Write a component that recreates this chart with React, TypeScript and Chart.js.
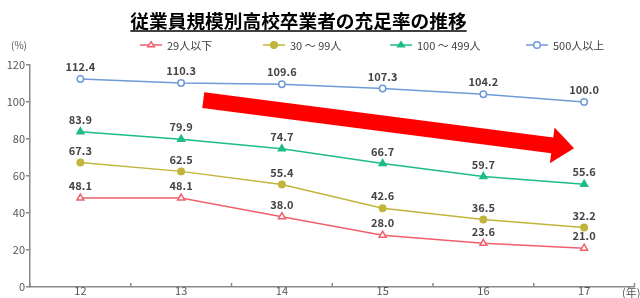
import React, { useEffect, useRef } from "react";
import { Chart, registerables } from "chart.js";

Chart.register(...registerables);

const title = "従業員規模別高校卒業者の充足率の推移";
const categories = ["12", "13", "14", "15", "16", "17"];
const seriesNames = ["29人以下", "30 ～ 99人", "100 ～ 499人", "500人以上"];
const under30 = [48.1, 48.1, 38.0, 28.0, 23.6, 21.0];
const from30to99 = [67.3, 62.5, 55.4, 42.6, 36.5, 32.2];
const from100to499 = [83.9, 79.9, 74.7, 66.7, 59.7, 55.6];
const over500 = [112.4, 110.3, 109.6, 107.3, 104.2, 100.0];
const yMin = 0;
const yMax = 120;
const yStep = 20;
const yUnit = "(%)";
const xUnit = "(年)";
// trend arrow, in data space (category index, value)
const arrowFrom = { x: 1.22, y: 101 };
const arrowTo = { x: 4.9, y: 75 };

const FONT = "'Noto Sans CJK JP', 'Noto Sans', sans-serif";
const RED = "#f0606c";
const OLIVE = "#c2b53c";
const GREEN = "#1ebc8a";
const BLUE = "#6e9bd6";
const TEXT = "#404040";
const AXIS = "#8a8a8a";

const markers = [
  { color: RED, style: "triangle", open: true },
  { color: OLIVE, style: "circle", open: false },
  { color: GREEN, style: "triangle", open: false },
  { color: BLUE, style: "circle", open: true },
];

function drawMarker(ctx: CanvasRenderingContext2D, x: number, y: number, m: any, r: number) {
  ctx.save();
  ctx.beginPath();
  if (m.style === "circle") {
    ctx.arc(x, y, r, 0, Math.PI * 2);
  } else {
    const h = r * 1.5;
    ctx.moveTo(x, y - h * 0.66);
    ctx.lineTo(x + r, y + h * 0.34);
    ctx.lineTo(x - r, y + h * 0.34);
    ctx.closePath();
  }
  ctx.fillStyle = m.open ? "#ffffff" : m.color;
  ctx.fill();
  ctx.lineWidth = 1.5;
  ctx.strokeStyle = m.color;
  ctx.stroke();
  ctx.restore();
}

const decorPlugin = {
  id: "decor",
  afterDatasetsDraw(chart: any) {
    const ctx: CanvasRenderingContext2D = chart.ctx;
    const xs = chart.scales.x;
    const ys = chart.scales.y;
    const area = chart.chartArea;

    // data labels
    ctx.save();
    ctx.font = `bold 11px ${FONT}`;
    ctx.fillStyle = "#444444";
    ctx.textAlign = "center";
    ctx.textBaseline = "middle";
    chart.data.datasets.forEach((ds: any, di: number) => {
      const meta = chart.getDatasetMeta(di);
      meta.data.forEach((pt: any, i: number) => {
        ctx.fillText(ds.data[i].toFixed(1), pt.x, pt.y - 12);
      });
    });
    ctx.restore();

    // x tick marks at category boundaries (pointing up)
    ctx.save();
    ctx.strokeStyle = AXIS;
    ctx.lineWidth = 1.5;
    for (let i = 0; i <= categories.length; i++) {
      const x = xs.getPixelForValue(i - 0.5);
      ctx.beginPath();
      ctx.moveTo(x, area.bottom);
      ctx.lineTo(x, area.bottom - 4);
      ctx.stroke();
    }
    ctx.restore();

    // trend arrow
    const x1 = xs.getPixelForValue(arrowFrom.x);
    const y1 = ys.getPixelForValue(arrowFrom.y);
    const x2 = xs.getPixelForValue(arrowTo.x);
    const y2 = ys.getPixelForValue(arrowTo.y);
    const dx = x2 - x1;
    const dy = y2 - y1;
    const len = Math.hypot(dx, dy);
    const ux = dx / len;
    const uy = dy / len;
    const px = -uy;
    const py = ux;
    const shaft = 8;
    const headW = 18;
    const headL = 22;
    const bx = x2 - ux * headL;
    const by = y2 - uy * headL;
    ctx.save();
    ctx.fillStyle = "#ff0000";
    ctx.beginPath();
    ctx.moveTo(x1 + px * shaft, y1 + py * shaft);
    ctx.lineTo(bx + px * shaft, by + py * shaft);
    ctx.lineTo(bx + px * headW, by + py * headW);
    ctx.lineTo(x2, y2);
    ctx.lineTo(bx - px * headW, by - py * headW);
    ctx.lineTo(bx - px * shaft, by - py * shaft);
    ctx.lineTo(x1 - px * shaft, y1 - py * shaft);
    ctx.closePath();
    ctx.fill();
    ctx.restore();
  },
  afterDraw(chart: any) {
    const ctx: CanvasRenderingContext2D = chart.ctx;
    // title with underline
    ctx.save();
    ctx.font = `bold 18.7px ${FONT}`;
    ctx.fillStyle = "#000000";
    ctx.textAlign = "center";
    ctx.textBaseline = "middle";
    const cx = 298.5;
    ctx.fillText(title, cx, 20.5);
    const w = ctx.measureText(title).width;
    ctx.strokeStyle = "#000000";
    ctx.lineWidth = 1.6;
    ctx.beginPath();
    ctx.moveTo(cx - w / 2, 31);
    ctx.lineTo(cx + w / 2, 31);
    ctx.stroke();
    ctx.restore();

    // legend
    const starts = [140, 263, 390, 526];
    ctx.save();
    ctx.font = `11px ${FONT}`;
    ctx.textBaseline = "middle";
    ctx.textAlign = "left";
    seriesNames.forEach((name, i) => {
      const x = starts[i];
      const y = 45;
      const m = markers[i];
      ctx.strokeStyle = m.color;
      ctx.lineWidth = 1.5;
      ctx.beginPath();
      ctx.moveTo(x, y);
      ctx.lineTo(x + 22, y);
      ctx.stroke();
      drawMarker(ctx, x + 11, y, m, 3.3);
      ctx.fillStyle = TEXT;
      ctx.fillText(name, x + 27, y + 0.5);
    });
    ctx.restore();

    // axis units
    ctx.save();
    ctx.font = `10px ${FONT}`;
    ctx.fillStyle = "#555555";
    ctx.textBaseline = "middle";
    ctx.textAlign = "left";
    ctx.fillText(yUnit, 11, 45);
    ctx.font = `11px ${FONT}`;
    ctx.fillText(xUnit, 622, 293);
    ctx.restore();
  },
};

export default function App() {
  const ref = useRef<HTMLCanvasElement | null>(null);

  useEffect(() => {
    if (!ref.current) return;
    const mk = (label: string, data: number[], i: number) => {
      const m = markers[i];
      return {
        label,
        data,
        borderColor: m.color,
        backgroundColor: m.color,
        borderWidth: 1.5,
        tension: 0,
        pointStyle: m.style,
        pointRadius: m.style === "triangle" ? 4 : 3.2,
        pointBorderWidth: 1.5,
        pointBorderColor: m.color,
        pointBackgroundColor: m.open ? "#ffffff" : m.color,
      };
    };
    const chart = new Chart(ref.current, {
      type: "line",
      data: {
        labels: categories,
        datasets: [
          mk(seriesNames[3], over500, 3),
          mk(seriesNames[2], from100to499, 2),
          mk(seriesNames[1], from30to99, 1),
          mk(seriesNames[0], under30, 0),
        ],
      },
      options: {
        animation: false,
        responsive: false,
        maintainAspectRatio: false,
        devicePixelRatio: 1,
        layout: { padding: { top: 65, left: 0, right: 0, bottom: 0 } },
        plugins: {
          legend: { display: false },
          title: { display: false },
          tooltip: { enabled: false },
        },
        scales: {
          x: {
            type: "category",
            offset: true,
            grid: { display: false, drawTicks: false },
            border: { display: true, color: AXIS, width: 1.5 },
            ticks: {
              color: "#555555",
              padding: -2,
              font: { family: FONT, size: 11, lineHeight: 1 },
              maxRotation: 0,
            },
            afterFit: (s: any) => {
              s.height = 11;
            },
          },
          y: {
            min: yMin,
            max: yMax,
            grid: {
              drawOnChartArea: false,
              drawTicks: true,
              tickLength: 4,
              color: AXIS,
              lineWidth: 1.5,
            },
            border: { display: true, color: AXIS, width: 1.5 },
            ticks: {
              stepSize: yStep,
              color: "#555555",
              padding: 1,
              font: { family: FONT, size: 11 },
            },
            afterFit: (s: any) => {
              s.width = 30;
            },
          },
        },
      } as any,
      plugins: [decorPlugin],
    });
    return () => chart.destroy();
  }, []);

  return (
    <div style={{ position: "absolute", left: 0, top: 0, width: 640, height: 298, background: "#fff" }}>
      <canvas ref={ref} width={640} height={298} style={{ display: "block", width: 640, height: 298 }} />
    </div>
  );
}
